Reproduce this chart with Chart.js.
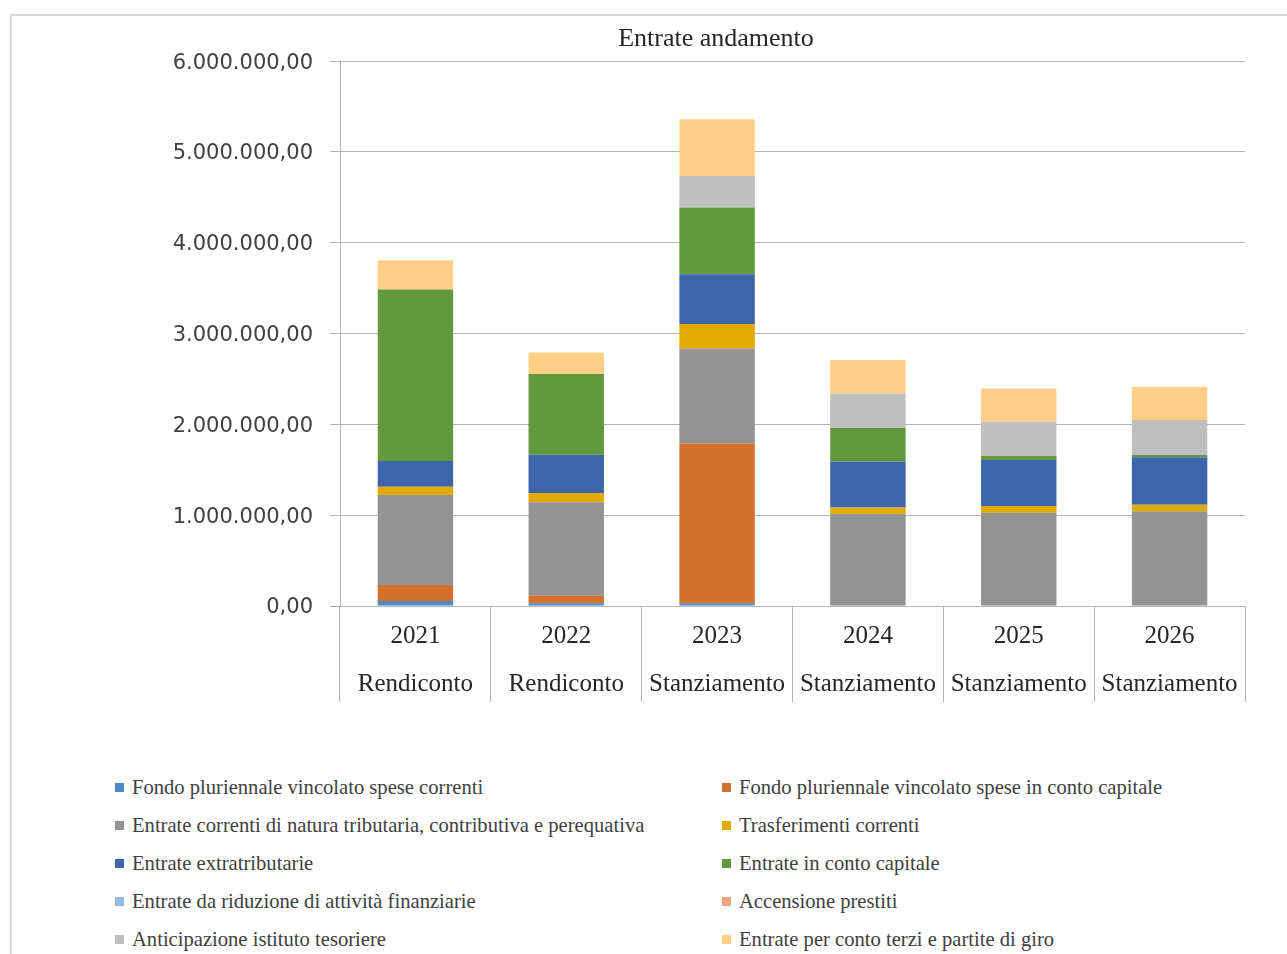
<!DOCTYPE html>
<html lang="it">
<head>
<meta charset="utf-8">
<title>Entrate andamento</title>
<script src="https://cdn.jsdelivr.net/npm/chart.js@4.4.1/dist/chart.umd.min.js"></script>
<style>
    html, body {
        margin: 0;
        padding: 0;
        background: #ffffff;
        overflow: hidden;
    }
    .chart-box {
        position: absolute;
        left: 10px;
        top: 14px;
        width: 1412px;
        height: 1000px;
        border: 2px solid #d9d9d9;
        box-sizing: border-box;
    }
    .chart-canvas {
        position: absolute;
        left: -2px;
        top: -2px;
        width: 1412px;
        height: 700px;
    }
    .legend {
        position: absolute;
        left: 103px;
        top: 752px;
        display: grid;
        grid-template-columns: 607px auto;
        grid-auto-rows: 38px;
        font-family: "Liberation Serif", serif;
        font-size: 20.6px;
        color: #404040;
    }
    .legend-item {
        display: flex;
        align-items: center;
        white-space: nowrap;
    }
    .legend-swatch {
        width: 9px;
        height: 9px;
        margin-right: 8px;
        flex: none;
    }
</style>
</head>
<body>
<div class="chart-box">
    <div class="chart-canvas"><canvas id="chart-entrate"></canvas></div>
    <div class="legend" id="legend-entrate"></div>
</div>

<script>
// Esercizi e tipo di documento
const anni = ['2021', '2022', '2023', '2024', '2025', '2026'];
const documenti = ['Rendiconto', 'Rendiconto', 'Stanziamento', 'Stanziamento', 'Stanziamento', 'Stanziamento'];

// Importi per titolo di entrata (euro)
const fondoSpeseCorrenti = [55000, 30000, 30000, 0, 0, 0];
const fondoContoCapitale = [176000, 84000, 1761000, 0, 0, 0];
const entrateCorrenti = [991000, 1028000, 1046000, 1013000, 1028000, 1043000];
const trasferimentiCorrenti = [91000, 102000, 268000, 73000, 73000, 73000];
const entrateExtratributarie = [283000, 422000, 550000, 506000, 506000, 521000];
const entrateContoCapitale = [1890000, 888000, 734000, 367000, 44000, 26000];
const riduzioneAttivita = [0, 0, 0, 0, 0, 0];
const accensionePrestiti = [0, 0, 0, 0, 0, 0];
const anticipazioneTesoriere = [0, 0, 348000, 382000, 378000, 385000];
const contoTerzi = [323000, 239000, 624000, 367000, 367000, 367000];

const yTicks = [0, 1000000, 2000000, 3000000, 4000000, 5000000, 6000000];

const serie = [
    { label: 'Fondo pluriennale vincolato spese correnti', data: fondoSpeseCorrenti, color: '#4f89c5' },
    { label: 'Fondo pluriennale vincolato spese in conto capitale', data: fondoContoCapitale, color: '#d3702b' },
    { label: 'Entrate correnti di natura tributaria, contributiva e perequativa', data: entrateCorrenti, color: '#939393' },
    { label: 'Trasferimenti correnti', data: trasferimentiCorrenti, color: '#e1aa00' },
    { label: 'Entrate extratributarie', data: entrateExtratributarie, color: '#3d65ab' },
    { label: 'Entrate in conto capitale', data: entrateContoCapitale, color: '#62993e' },
    { label: 'Entrate da riduzione di attività finanziarie', data: riduzioneAttivita, color: '#95b9e2' },
    { label: 'Accensione prestiti', data: accensionePrestiti, color: '#f1a684' },
    { label: 'Anticipazione istituto tesoriere', data: anticipazioneTesoriere, color: '#bfbfbf' },
    { label: 'Entrate per conto terzi e partite di giro', data: contoTerzi, color: '#ffcf87' }
];

const GRID = '#b4b4b4';
const TEXT = '#404040';

function formatEuro(v) {
    const intero = Math.round(v).toString().replace(/\B(?=(\d{3})+(?!\d))/g, '.');
    return intero + ',00';
}

function buildLegend(chart) {
    const box = document.getElementById('legend-entrate');
    box.innerHTML = '';
    chart.data.datasets.forEach(ds => {
        const item = document.createElement('div');
        item.className = 'legend-item';
        const sw = document.createElement('span');
        sw.className = 'legend-swatch';
        sw.style.background = ds.backgroundColor;
        const txt = document.createElement('span');
        txt.textContent = ds.label;
        item.appendChild(sw);
        item.appendChild(txt);
        box.appendChild(item);
    });
}

const ctx = document.getElementById('chart-entrate');
const chart = new Chart(ctx, {
    type: 'bar',
    data: {
        labels: anni.map((a, i) => [a, documenti[i]]),
        datasets: serie.map(s => ({
            label: s.label,
            data: s.data,
            backgroundColor: s.color,
            borderWidth: 0,
            categoryPercentage: 1,
            barPercentage: 0.5
        }))
    },
    options: {
        responsive: true,
        maintainAspectRatio: false,
        animation: false,
        layout: {
            padding: { left: 0, right: 0, top: 0, bottom: 12 }
        },
        plugins: {
            legend: { display: false },
            tooltip: { enabled: false },
            title: {
                display: true,
                text: 'Entrate andamento',
                color: '#262626',
                font: { family: 'Liberation Serif', size: 26, weight: 'normal' },
                padding: { top: 10, bottom: 6 }
            }
        },
        scales: {
            x: {
                stacked: true,
                grid: {
                    offset: true,
                    drawOnChartArea: false,
                    drawTicks: true,
                    tickLength: 96,
                    color: GRID
                },
                border: { display: true, color: GRID },
                ticks: {
                    color: '#262626',
                    padding: -90,
                    maxRotation: 0,
                    autoSkip: false,
                    font: { family: 'Liberation Serif', size: 25, lineHeight: 1.92 }
                },
                afterFit: (scale) => { scale.height = 96; }
            },
            y: {
                stacked: true,
                min: 0,
                max: 6000000,
                afterBuildTicks: (scale) => { scale.ticks = yTicks.map(v => ({ value: v })); },
                grid: {
                    color: GRID,
                    tickLength: 10
                },
                border: { display: true, color: GRID },
                ticks: {
                    color: TEXT,
                    padding: 17,
                    labelOffset: 2,
                    font: { family: 'DejaVu Sans', size: 21 },
                    callback: (v) => formatEuro(v)
                },
                afterFit: (scale) => { scale.width = 330; }
            },
            // empty right-hand strip, keeps the plot narrower than the title box
            spazio: {
                position: 'right',
                display: true,
                grid: { display: false },
                border: { display: false },
                ticks: { display: false },
                afterFit: (scale) => { scale.width = 177; }
            }
        }
    }
});

buildLegend(chart);
</script>
</body>
</html>
